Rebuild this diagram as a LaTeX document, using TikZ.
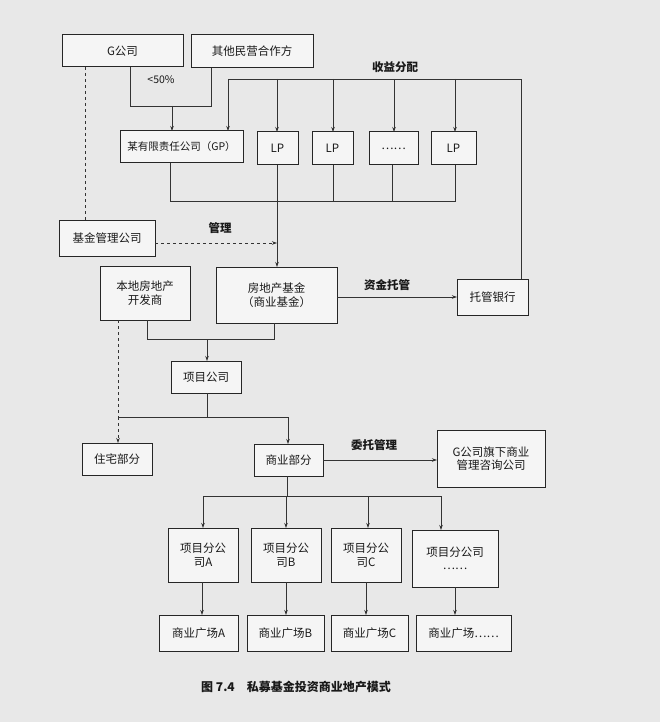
\documentclass[tikz,border=0pt]{standalone}
\usepackage{fontspec}
\setmainfont{Noto Sans CJK SC}
\usetikzlibrary{arrows.meta}
\begin{document}
\begin{tikzpicture}[x=1pt,y=-1pt,
  bx/.style={draw=black!85,line width=1pt,fill=black!4,inner sep=0pt,font=\fontsize{11.5pt}{13.5pt}\selectfont,align=center,text=black!90},
  ln/.style={draw=black!80,line width=0.75pt},
  ar/.style={ln,-{Stealth[length=5pt,width=3.5pt]}},
  lab/.style={font=\fontsize{11.5pt}{13pt}\selectfont\bfseries,text=black!90}]
\fill[black!9] (0,0) rectangle (660,722);
\useasboundingbox (0,0) rectangle (660,722);
\newcommand\bxat[6]{\node[bx,minimum width=#3-#2,minimum height=#5-#4] (#1) at ({(#2+#3)/2},{(#4+#5)/2}) {#6};}
\bxat{g}{62}{183}{35}{67}{G公司}
\bxat{oth}{191}{313}{35}{68}{其他民营合作方}
\bxat{gp}{120}{243}{131}{163}{\fontsize{10.5pt}{12pt}\selectfont 某有限责任公司（GP）}
\bxat{lp1}{257}{298}{132}{165}{LP}
\bxat{lp2}{312}{353}{132}{165}{LP}
\bxat{lpd}{369}{418}{132}{165}{……}
\bxat{lp3}{431}{476}{132}{165}{LP}
\bxat{fm}{59}{155}{220}{256}{基金管理公司}
\bxat{dev}{100}{190}{266}{320}{本地房地产\\开发商}
\bxat{fund}{216}{337}{267}{323}{房地产基金\\（商业基金）}
\bxat{bank}{457}{528}{279}{315}{托管银行}
\bxat{proj}{171}{241}{361}{393}{项目公司}
\bxat{res}{82}{152}{443}{475}{住宅部分}
\bxat{com}{254}{323}{444}{476}{商业部分}
\bxat{gm}{437}{545}{430}{487}{G公司旗下商业\\管理咨询公司}
\bxat{sa}{168}{238}{528}{582}{项目分公\\司A}
\bxat{sb}{251}{321}{528}{582}{项目分公\\司B}
\bxat{sc}{331}{401}{528}{582}{项目分公\\司C}
\bxat{sd}{412}{498}{530}{587}{项目分公司\\……}
\bxat{pa}{159}{238}{615}{651}{商业广场A}
\bxat{pb}{247}{324}{615}{651}{商业广场B}
\bxat{pc}{331}{408}{615}{651}{商业广场C}
\bxat{pd}{416}{511}{615}{651}{商业广场……}
% top
\draw[ln] (130,67) -- (130,106) -- (211,106) -- (211,68);
\draw[ar] (172,106) -- (172,131);
\node[font=\fontsize{10.5pt}{12pt}\selectfont,text=black!90] at (161,80) {<50\%};
\draw[ln,dashed] (85,67) -- (85,220);
% income distribution
\draw[ln] (521,279) -- (521,79) -- (228,79);
\foreach \xx/\yy in {228/131,277/132,333/132,394/132,455/132} \draw[ar] (\xx,79) -- (\xx,\yy);
\node[lab] at (395,67) {收益分配};
% collector
\draw[ln] (170,163) -- (170,201) -- (455,201) -- (455,165);
\draw[ln] (333,165) -- (333,201);
\draw[ln] (392,165) -- (392,201);
\draw[ar] (277,165) -- (277,267);
\draw[ar,dashed] (155,243) -- (277,243);
\node[lab] at (220,228) {管理};
\draw[ar] (337,297) -- (457,297);
\node[lab] at (387,285) {资金托管};
% middle
\draw[ln] (147,320) -- (147,339) -- (274,339) -- (274,323);
\draw[ar] (207,339) -- (207,361);
\draw[ln,dashed] (118,320) -- (118,417);
\draw[ar,dashed] (118,417) -- (118,443);
\draw[ln] (207,393) -- (207,417);
\draw[ln] (118,417) -- (288,417);
\draw[ar] (288,417) -- (288,444);
\draw[ar] (323,460) -- (437,460);
\node[lab] at (374,445) {委托管理};
% bottom
\draw[ln] (287,476) -- (287,496);
\draw[ln] (203,496) -- (441,496);
\foreach \xx/\yy in {203/528,286/528,368/528,441/530} \draw[ar] (\xx,496) -- (\xx,\yy);
\draw[ar] (202,582) -- (202,615);
\draw[ar] (286,582) -- (286,615);
\draw[ar] (366,582) -- (366,615);
\draw[ar] (455,587) -- (455,615);
\node[font=\fontsize{12pt}{13pt}\selectfont\bfseries,text=black!90] at (296,687) {图 7.4\quad 私募基金投资商业地产模式};
\end{tikzpicture}
\end{document}
